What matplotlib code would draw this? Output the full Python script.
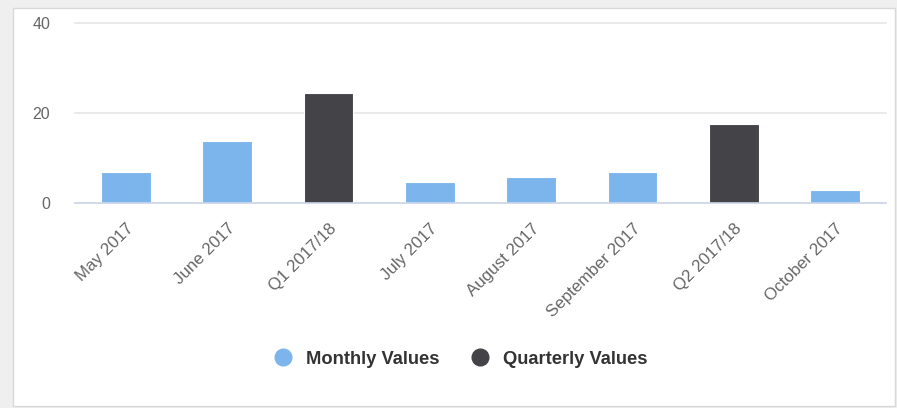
import matplotlib.pyplot as plt
from matplotlib.lines import Line2D
from matplotlib.patches import Rectangle

categories = ["May 2017", "June 2017", "Q1 2017/18", "July 2017", "August 2017",
              "September 2017", "Q2 2017/18", "October 2017"]
values = [6.8, 13.8, 24.5, 4.6, 5.7, 6.8, 17.5, 2.8]
kinds = ["Monthly", "Monthly", "Quarterly", "Monthly", "Monthly",
         "Monthly", "Quarterly", "Monthly"]
yticks = [0, 20, 40]

colors = {"Monthly": "#7cb5ec", "Quarterly": "#434348"}
legend_labels = {"Monthly": "Monthly Values", "Quarterly": "Quarterly Values"}

plt.rcParams['font.family'] = ['Liberation Sans', 'DejaVu Sans']

fig = plt.figure(figsize=(8.97, 4.08), dpi=100, facecolor='#efefef')
panel = Rectangle((13 / 897, 2 / 408), 882 / 897, 398 / 408,
                  transform=fig.transFigure, facecolor='white',
                  edgecolor='#d8d8d8', linewidth=1, zorder=-10)
fig.add_artist(panel)

ax = fig.add_axes([75 / 897, 205 / 408, 811 / 897, 180 / 408])
ax.set_facecolor('none')

for kind in ["Monthly", "Quarterly"]:
    idx = [i for i, k in enumerate(kinds) if k == kind]
    ax.bar(idx, [values[i] for i in idx], width=0.49, color=colors[kind],
           edgecolor='white', linewidth=0.8, zorder=3)

ax.set_xlim(-0.5, len(categories) - 0.5)
ax.set_ylim(0, 40)
ax.set_yticks(yticks)
ax.set_xticks(range(len(categories)))
ax.set_xticklabels(categories, rotation=45, ha='right', rotation_mode='anchor')
ax.tick_params(axis='both', length=0, labelcolor='#666666')
ax.tick_params(axis='y', pad=18, labelsize=11.5)
ax.tick_params(axis='x', pad=13, labelsize=12.2)

for s in ['top', 'right', 'left']:
    ax.spines[s].set_visible(False)
ax.spines['bottom'].set_color('#ccd6eb')
ax.spines['bottom'].set_linewidth(1.2)
ax.spines['bottom'].set_zorder(4)

ax.yaxis.grid(True, color='#e6e6e6', linewidth=1.2, zorder=0)
for line in ax.get_ygridlines():
    line.set_clip_on(False)
ax.set_axisbelow(True)

handles = [Line2D([], [], marker='o', linestyle='none', markersize=12,
                  markerfacecolor=colors[k], markeredgecolor=colors[k])
           for k in ["Monthly", "Quarterly"]]
fig.legend(handles, [legend_labels[k] for k in ["Monthly", "Quarterly"]],
           loc='center', bbox_to_anchor=(456 / 897, 49 / 408), ncol=2,
           frameon=False, handletextpad=0.25, columnspacing=1.25,
           prop={'weight': 'bold', 'size': 13.2}, labelcolor='#333333')

plt.savefig('out.png', dpi=100, facecolor=fig.get_facecolor())
